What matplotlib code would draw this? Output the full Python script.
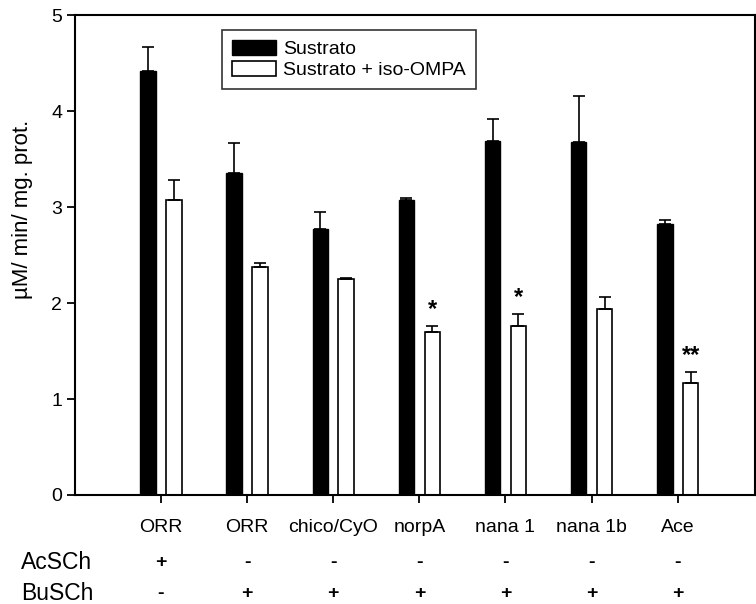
import numpy as np
import matplotlib
matplotlib.use("Agg")
import matplotlib.pyplot as plt

plt.rcParams['font.family'] = ['Liberation Sans', 'DejaVu Sans']

# data
groups = ["ORR", "ORR", "chico/CyO", "norpA", "nana 1", "nana 1b", "Ace"]
sustrato = [4.42, 3.35, 2.77, 3.07, 3.69, 3.68, 2.82]
sustrato_err = [0.25, 0.32, 0.18, 0.02, 0.23, 0.48, 0.05]
iso_ompa = [3.07, 2.38, 2.25, 1.70, 1.76, 1.94, 1.17]
iso_ompa_err = [0.21, 0.04, 0.01, 0.06, 0.13, 0.12, 0.11]
signif = ["", "", "", "*", "*", "", "**"]
acsch = ["+", "-", "-", "-", "-", "-", "-"]
busch = ["-", "+", "+", "+", "+", "+", "+"]

x = np.arange(1, len(groups) + 1)
w = 0.18
off = 0.15

fig = plt.figure(figsize=(7.56, 6.04), dpi=100)
ax = fig.add_axes([0.099, 0.1805, 0.9, 0.7945])

ax.bar(x - off, sustrato, w, color='black', edgecolor='black', label='Sustrato')
ax.bar(x + off, iso_ompa, w, color='white', edgecolor='black', linewidth=1.2,
       label='Sustrato + iso-OMPA')
ax.errorbar(x - off, sustrato, yerr=[np.zeros(len(x)), sustrato_err], fmt='none',
            ecolor='black', elinewidth=1.2, capsize=4.3, capthick=1.2)
ax.errorbar(x + off, iso_ompa, yerr=[np.zeros(len(x)), iso_ompa_err], fmt='none',
            ecolor='black', elinewidth=1.2, capsize=4.3, capthick=1.2)

for xi, v, e, s in zip(x, iso_ompa, iso_ompa_err, signif):
    if s:
        ax.text(xi + off, v + e + 0.05, s, ha='center', va='bottom',
                fontsize=17, fontweight='bold')

ax.set_xlim(0, 7.9)
ax.set_ylim(0, 5)
ax.set_yticks([0, 1, 2, 3, 4, 5])
ax.set_xticks(x)
ax.set_xticklabels(groups, fontsize=14)
ax.tick_params(axis='x', length=6, width=1.3, direction='out', pad=11)
ax.tick_params(axis='y', length=6, width=1.3, direction='out', labelsize=14, pad=3)
for sp in ax.spines.values():
    sp.set_linewidth(1.5)

ax.set_ylabel("µM/ min/ mg. prot.", fontsize=16)
ax.yaxis.set_label_coords(-0.062, 0.596)

leg = ax.legend(loc='upper left', bbox_to_anchor=(0.216, 0.969), fontsize=14,
                frameon=True, fancybox=False, edgecolor='black',
                handlelength=2.3, handleheight=0.8, borderpad=0.5,
                labelspacing=0.15, handletextpad=0.35, borderaxespad=0)
leg.get_frame().set_linewidth(1.2)

# substrate rows below the axis
trans = ax.get_xaxis_transform()
ax.text(-0.62, -0.14, "AcSCh", transform=trans, ha='left', va='center', fontsize=16.5,
        clip_on=False)
ax.text(-0.62, -0.205, "BuSCh", transform=trans, ha='left', va='center', fontsize=16.5,
        clip_on=False)
for xi, a, b in zip(x, acsch, busch):
    ax.text(xi, -0.14, a, transform=trans, ha='center', va='center', fontsize=14,
            fontweight='bold')
    ax.text(xi, -0.205, b, transform=trans, ha='center', va='center', fontsize=14,
            fontweight='bold')

fig.savefig("out.png", dpi=100)
